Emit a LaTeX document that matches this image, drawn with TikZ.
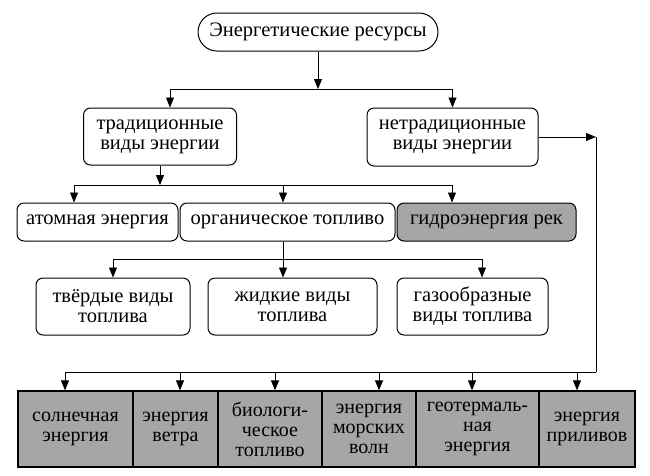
\documentclass[tikz,border=0pt]{standalone}
\usepackage{fontspec}
\setmainfont{Liberation Serif}
\usetikzlibrary{arrows.meta}

\begin{document}
\begin{tikzpicture}[x=1pt,y=1pt,yscale=-1,
	box/.style={draw,rounded corners=7pt,line width=1pt,align=center,inner sep=0pt,font=\fontsize{20.5}{20}\selectfont},
	srcbox/.style={box,rounded corners=19pt},
	graybox/.style={box,fill=black!35},
	sqbox/.style={draw,line width=1.3pt,fill=black!35,align=center,inner sep=0pt,minimum height=76pt,font=\fontsize{20}{20}\selectfont},
	arr/.style={-{Triangle[length=10pt,width=8pt]},line width=0.9pt},
	ln/.style={line width=0.9pt}]
	\useasboundingbox (0,0) rectangle (650,475);
	
	\node[srcbox,minimum width=240pt,minimum height=38pt] (res) at (318,32) {Энергетические ресурсы};
	\node[box,minimum width=153pt,minimum height=57pt] (trad) at (160,136.5) {традиционные\\виды энергии};
	\node[box,minimum width=171pt,minimum height=58pt] (netrad) at (452.5,137) {нетрадиционные\\виды энергии};
	
	\node[box,minimum width=161pt,minimum height=38pt] (atom) at (97.5,222) {атомная энергия};
	\node[box,minimum width=215pt,minimum height=38pt] (org) at (287.5,222) {органическое топливо};
	\node[graybox,minimum width=179pt,minimum height=38pt] (hydro) at (486.5,222) {гидроэнергия рек};
	
	\node[box,minimum width=154pt,minimum height=57pt] (solid) at (113,306.5) {твёрдые виды\\топлива};
	\node[box,minimum width=169pt,minimum height=57pt] (liquid) at (292.5,306.5) {жидкие виды\\топлива};
	\node[box,minimum width=151pt,minimum height=57pt] (gas) at (472.5,306.5) {газообразные\\виды топлива};
	
	\node[sqbox,minimum width=115pt] (sun) at (75.5,429) {солнечная\\энергия};
	\node[sqbox,minimum width=85pt] (wind) at (175.5,429) {энергия\\ветра};
	\node[sqbox,minimum width=104pt] (bio) at (270,429) {биологи-\\ческое\\топливо};
	\node[sqbox,minimum width=94pt] (wave) at (369,429) {энергия\\морских\\волн};
	\node[sqbox,minimum width=123pt] (geo) at (477.5,429) {геотермаль-\\ная\\энергия};
	\node[sqbox,minimum width=96pt] (tide) at (587,429) {энергия\\приливов};
	
	% connectors
	\coordinate (bus1) at (318,89);
	\draw[arr] (res) -- (bus1);
	\draw[arr] (bus1) -| ([xshift=10pt]trad.north);
	\draw[arr] (bus1) -| (netrad.north);
	
	\coordinate (bus2) at (160,185);
	\draw[arr] (trad) -- (bus2);
	\draw[arr] (bus2) -| ([xshift=-23.5pt]atom.north);
	\draw[arr] (bus2) -| ([xshift=-4.5pt]org.north);
	\draw[arr] (bus2) -| ([xshift=-34.5pt]hydro.north);
	
	\coordinate (bus3) at (283,259);
	\draw[ln] ([xshift=-4.5pt]org.south) -- (bus3);
	\draw[arr] (bus3) -| (solid.north);
	\draw[arr] (bus3) -- ([xshift=-9.5pt]liquid.north);
	\draw[arr] (bus3) -| ([xshift=9.5pt]gas.north);
	
	\coordinate (rt) at (596,137);
	\coordinate (rb) at (596,372);
	\draw[arr] (netrad.east) -- (rt);
	\draw[ln] (rt) -- (rb);
	\foreach \n/\dx in {sun/-10.5,wind/4.5,bio/5,wave/10,geo/-5.5,tide/-10}
		\draw[arr] (rb) -| ([xshift=\dx pt]\n.north);
\end{tikzpicture}
\end{document}
